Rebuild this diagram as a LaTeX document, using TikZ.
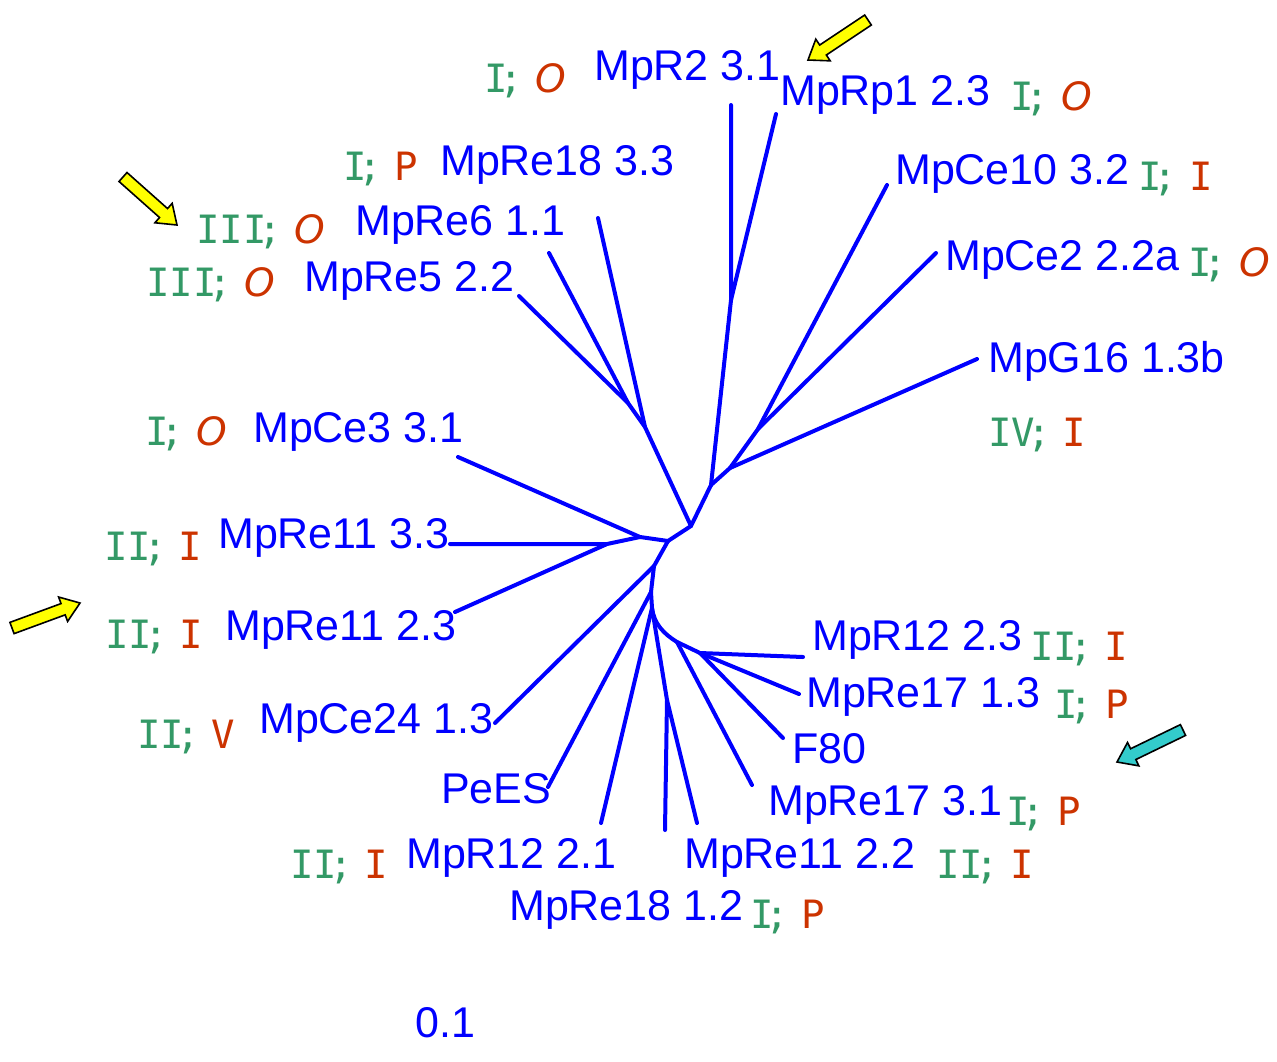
\documentclass[tikz,border=0pt]{standalone}
\usepackage{fontspec}
\setmainfont{Liberation Sans}
\newfontfamily\comicf{DejaVu Sans Mono}
\newfontfamily\roundf{DejaVu Sans}
\usetikzlibrary{calc}
\definecolor{treeblue}{RGB}{0,0,255}
\definecolor{grn}{RGB}{51,153,102}
\definecolor{rd}{RGB}{204,51,0}
\definecolor{arrowyellow}{RGB}{255,255,0}
\definecolor{arrowcyan}{RGB}{51,204,204}
\newcommand\gl[2]{{\color{grn}#1\kern-0.2em;\hspace{0.3em}\color{rd}#2}}
\newcommand\ooo{{\roundf\itshape O}}
\newcommand\blockarrow[3]{%
  \coordinate (bas) at (#1);
  \coordinate (bat) at (#2);
  \coordinate (bah) at ($(bat)!18pt!(bas)$);
  \filldraw[fill=#3, draw=black, line width=1.6pt, line join=miter]
    ($(bas)!6pt!90:(bat)$) -- ($(bah)!6pt!90:(bat)$) -- ($(bah)!13pt!90:(bat)$) -- (bat)
    -- ($(bah)!13pt!-90:(bat)$) -- ($(bah)!6pt!-90:(bat)$) -- ($(bas)!6pt!-90:(bat)$) -- cycle;
}
\tikzset{
  tree/.style={draw=treeblue, line width=4pt, line cap=round, line join=round},
  lbl/.style={anchor=base west, inner sep=0pt, text=treeblue, font=\fontsize{43}{50}\selectfont},
  cl/.style={anchor=base west, inner sep=0pt, font=\fontsize{39}{47}\selectfont\comicf},
}
\begin{document}
\begin{tikzpicture}[x=1pt,y=-1pt]
\useasboundingbox[fill=white] (0,0) rectangle (1277,1061);
% internal nodes
\coordinate (A) at (691,526);
\coordinate (B) at (668,541);
\coordinate (C) at (711,485);
\coordinate (D) at (645,427);
\coordinate (D1) at (628,403);
\coordinate (C1) at (731,300);
\coordinate (C2) at (730,468);
\coordinate (C3) at (758,429);
\coordinate (E) at (640,537);
\coordinate (F) at (607,544);
\coordinate (G) at (654,566);
\coordinate (H) at (651,592);
\coordinate (I) at (652,608);
\coordinate (J) at (667,700);
\coordinate (K) at (677,642);
\coordinate (L) at (700,653);
% leaves
\coordinate (lRe18a) at (598,218);
\coordinate (lRe5) at (519,296);
\coordinate (lRe6) at (549,253);
\coordinate (lR2) at (731,105);
\coordinate (lRp1) at (776,114);
\coordinate (lG16) at (977,359);
\coordinate (lCe10) at (887,185);
\coordinate (lCe2) at (936,253);
\coordinate (lCe3) at (458,457);
\coordinate (lRe11a) at (450,544);
\coordinate (lRe11b) at (455,612);
\coordinate (lCe24) at (495,723);
\coordinate (lPeES) at (548,787);
\coordinate (lR12a) at (601,823);
\coordinate (lRe18b) at (665,830);
\coordinate (lRe11c) at (697,823);
\coordinate (lRe17a) at (752,785);
\coordinate (lR12b) at (803,657);
\coordinate (lRe17b) at (799,694);
\coordinate (lF80) at (783,738);
% edges
\draw[tree] (B) -- (A) -- (C);
\draw[tree] (A) -- (D) -- (D1) -- (lRe5);
\draw[tree] (D1) -- (lRe6);
\draw[tree] (D) -- (lRe18a);
\draw[tree] (C) -- (C1) -- (lR2);
\draw[tree] (C1) -- (lRp1);
\draw[tree] (C) -- (C2) -- (lG16);
\draw[tree] (C2) -- (C3) -- (lCe10);
\draw[tree] (C3) -- (lCe2);
\draw[tree] (B) -- (E) -- (lCe3);
\draw[tree] (E) -- (F) -- (lRe11a);
\draw[tree] (F) -- (lRe11b);
\draw[tree] (B) -- (G) -- (lCe24);
\draw[tree] (G) -- (H) -- (lPeES);
\draw[tree] (H) -- (I) -- (lR12a);
\draw[tree] (I) -- (J) -- (lRe18b);
\draw[tree] (J) -- (lRe11c);
\draw[tree] (I) .. controls (654,624) and (664,634) .. (K);
\draw[tree] (K) -- (lRe17a);
\draw[tree] (K) -- (L) -- (lR12b);
\draw[tree] (L) -- (lRe17b);
\draw[tree] (L) -- (lF80);
% blue labels
\node[lbl] (tR2) at (594,80) {MpR2 3.1};
\node[lbl] (tRp1) at (780,105) {MpRp1 2.3};
\node[lbl] (tRe18a) at (440,175) {MpRe18 3.3};
\node[lbl] (tCe10) at (895,184) {MpCe10 3.2};
\node[lbl] (tRe6) at (355,235) {MpRe6 1.1};
\node[lbl] (tCe2) at (945,270) {MpCe2 2.2a};
\node[lbl] (tRe5) at (304,291) {MpRe5 2.2};
\node[lbl] (tG16) at (988,372) {MpG16 1.3b};
\node[lbl] (tCe3) at (253,442) {MpCe3 3.1};
\node[lbl] (tRe11a) at (218,548) {MpRe11 3.3};
\node[lbl] (tRe11b) at (225,640) {MpRe11 2.3};
\node[lbl] (tR12b) at (812,650) {MpR12 2.3};
\node[lbl] (tRe17b) at (806,707) {MpRe17 1.3};
\node[lbl] (tCe24) at (259,733) {MpCe24 1.3};
\node[lbl] (tF80) at (792,763) {F80};
\node[lbl] (tPeES) at (441,803) {PeES};
\node[lbl] (tRe17a) at (768,815) {MpRe17 3.1};
\node[lbl] (tR12a) at (406,868) {MpR12 2.1};
\node[lbl] (tRe11c) at (684,868) {MpRe11 2.2};
\node[lbl] (tRe18b) at (509,920) {MpRe18 1.2};
\node[lbl] (tscale) at (415,1037) {0.1};
% class labels
\node[cl] (cR2) at (484,92) {\gl{I}{\ooo}};
\node[cl] (cRp1) at (1010,110) {\gl{I}{\ooo}};
\node[cl] (cRe18a) at (343,180) {\gl{I}{P}};
\node[cl] (cCe10) at (1138,190) {\gl{I}{I}};
\node[cl] (cRe6) at (196,243) {\gl{III}{\ooo}};
\node[cl] (cCe2) at (1188,276) {\gl{I}{\ooo}};
\node[cl] (cRe5) at (146,296) {\gl{III}{\ooo}};
\node[cl] (cG16) at (988,446) {\gl{IV}{I}};
\node[cl] (cCe3) at (145,445) {\gl{I}{\ooo}};
\node[cl] (cRe11a) at (104,560) {\gl{II}{I}};
\node[cl] (cRe11b) at (105,648) {\gl{II}{I}};
\node[cl] (cR12b) at (1030,660) {\gl{II}{I}};
\node[cl] (cRe17b) at (1054,718) {\gl{I}{P}};
\node[cl] (cCe24) at (137,748) {\gl{II}{V}};
\node[cl] (cRe17a) at (1006,825) {\gl{I}{P}};
\node[cl] (cR12a) at (290,878) {\gl{II}{I}};
\node[cl] (cRe11c) at (936,878) {\gl{II}{I}};
\node[cl] (cRe18b) at (750,928) {\gl{I}{P}};
% pointer arrows
\blockarrow{868,20}{808,60}{arrowyellow}
\blockarrow{123,177}{177,225}{arrowyellow}
\blockarrow{12,628}{80,603}{arrowyellow}
\blockarrow{1183,730}{1117,762}{arrowcyan}
\end{tikzpicture}
\end{document}
